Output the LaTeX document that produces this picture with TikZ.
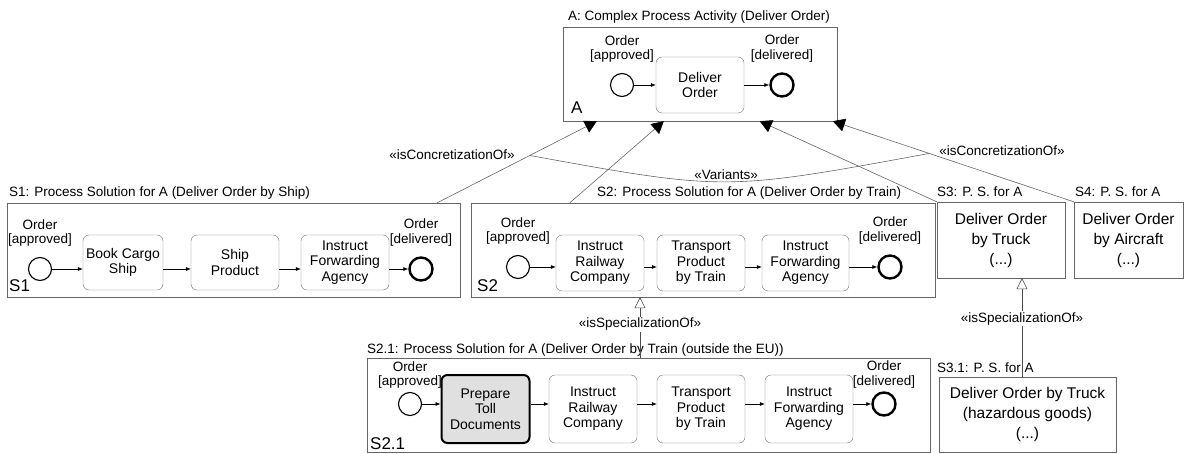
\documentclass[tikz,border=0pt]{standalone}
\usepackage{fontspec}
\setmainfont{Liberation Sans}
\usetikzlibrary{arrows.meta,positioning}

\tikzset{
  ContainerStyle/.style = { rectangle, draw=black!60, inner sep=0pt },
  ActivityStyle/.style  = { rectangle, rounded corners=6pt, draw=black!55,
                            fill=white, align=center, inner sep=0pt,
                            font=\fontsize{14}{15.5}\selectfont },
  TollStyle/.style      = { ActivityStyle, draw=black, line width=2pt,
                            fill=black!12 },
  StartStyle/.style     = { circle, draw, line width=1.1pt, minimum size=23pt,
                            inner sep=0pt },
  EndStyle/.style       = { StartStyle, line width=2.4pt },
  StateStyle/.style     = { align=center, inner sep=0pt,
                            font=\fontsize{13.5}{14.5}\selectfont },
  TitleStyle/.style     = { anchor=base west, inner sep=0pt,
                            font=\fontsize{13.5}{15}\selectfont },
  TagStyle/.style       = { anchor=base west, inner sep=0pt,
                            font=\fontsize{17}{18}\selectfont },
  SketchStyle/.style    = { align=center, font=\fontsize{15.5}{20}\selectfont },
  StereoStyle/.style    = { inner sep=1pt, font=\fontsize{13.5}{15}\selectfont },
  FlowStyle/.style      = { -{Latex[length=5pt,width=4pt]}, line width=0.6pt },
  ConcreteStyle/.style  = { -{Triangle[length=12pt,width=13pt,color=black]},
                            draw=black!60, line width=0.6pt },
  SpecialStyle/.style   = { -{Triangle[open,length=11pt,width=11pt]},
                            draw=black!70, line width=0.6pt }
}

\begin{document}
\begin{tikzpicture}[x=1pt,y=-1pt]
  \useasboundingbox (0,0) rectangle (1186,454);

  % complex process activity A
  \node[ContainerStyle, minimum width=274pt, minimum height=94pt] (a) at (700,74) {};
  \node[TitleStyle] (ta) at (568,21) {A: Complex Process Activity (Deliver Order)};
  \node[TagStyle] at (571,114) {A};
  \node[StartStyle] (a0) at (622,85) {};
  \node[ActivityStyle, minimum width=88pt, minimum height=56pt] (a1) at (700,85) {Deliver\\Order};
  \node[EndStyle] (a9) at (782,85) {};
  \node[StateStyle, above=10pt of a0] {Order\\{[}approved{]}};
  \node[StateStyle, above=10pt of a9] {Order\\{[}delivered{]}};
  \draw[FlowStyle] (a0) -- (a1);
  \draw[FlowStyle] (a1) -- (a9);

  % S1: by ship
  \node[ContainerStyle, minimum width=453pt, minimum height=94pt] (s1) at (233.5,250) {};
  \node[TitleStyle] (t1) at (9,197) {S1: Process Solution for A (Deliver Order by Ship)};
  \node[TagStyle] at (9,292) {S1};
  \node[StartStyle] (s1s) at (40,269) {};
  \node[ActivityStyle, minimum width=80pt, minimum height=55pt] (s1a) at (123,262.5) {Book Cargo\\Ship};
  \node[ActivityStyle, minimum width=88pt, minimum height=55pt] (s1b) at (235,262.5) {Ship\\Product};
  \node[ActivityStyle, minimum width=88pt, minimum height=55pt] (s1c) at (345,262.5) {Instruct\\Forwarding\\Agency};
  \node[EndStyle] (s1e) at (421,269) {};
  \node[StateStyle, above=10pt of s1s] {Order\\{[}approved{]}};
  \node[StateStyle, above=10pt of s1e] {Order\\{[}delivered{]}};
  \draw[FlowStyle] (s1s) -- (s1s -| s1a.west);
  \draw[FlowStyle] (s1a.east |- s1s) -- (s1b.west |- s1s);
  \draw[FlowStyle] (s1b.east |- s1s) -- (s1c.west |- s1s);
  \draw[FlowStyle] (s1c.east |- s1s) -- (s1e);

  % S2: by train
  \node[ContainerStyle, minimum width=464pt, minimum height=94pt] (s2) at (703,250) {};
  \node[TitleStyle] (t2) at (597,197) {S2: Process Solution for A (Deliver Order by Train)};
  \node[TagStyle] at (477,292) {S2};
  \node[StartStyle] (s2s) at (518,267) {};
  \node[ActivityStyle, minimum width=88pt, minimum height=56pt] (s2a) at (600,263) {Instruct\\Railway\\Company};
  \node[ActivityStyle, minimum width=88pt, minimum height=56pt] (s2b) at (701,263) {Transport\\Product\\by Train};
  \node[ActivityStyle, minimum width=87pt, minimum height=56pt] (s2c) at (805.5,263) {Instruct\\Forwarding\\Agency};
  \node[EndStyle] (s2e) at (890,267) {};
  \node[StateStyle, above=10pt of s2s] {Order\\{[}approved{]}};
  \node[StateStyle, above=10pt of s2e] {Order\\{[}delivered{]}};
  \draw[FlowStyle] (s2s) -- (s2s -| s2a.west);
  \draw[FlowStyle] (s2a.east |- s2s) -- (s2b.west |- s2s);
  \draw[FlowStyle] (s2b.east |- s2s) -- (s2c.west |- s2s);
  \draw[FlowStyle] (s2c.east |- s2s) -- (s2e);

  % S3, S4: sketched solutions
  \node[ContainerStyle, SketchStyle, minimum width=128pt, minimum height=76pt] (s3) at (1001,240) {Deliver Order\\by Truck\\(...)};
  \node[TitleStyle] (t3) at (937,197) {S3: P. S. for A};
  \node[ContainerStyle, SketchStyle, minimum width=109pt, minimum height=76pt] (s4) at (1128.5,240) {Deliver Order\\by Aircraft\\(...)};
  \node[TitleStyle] (t4) at (1075,197) {S4: P. S. for A};

  % S2.1: by train outside the EU
  \node[ContainerStyle, minimum width=563pt, minimum height=94pt] (s21) at (648.5,405) {};
  \node[TitleStyle] (t21) at (367,353) {S2.1: Process Solution for A (Deliver Order by Train (outside the EU))};
  \node[TagStyle] at (370,449) {S2.1};
  \node[StartStyle] (s21s) at (410,404) {};
  \node[TollStyle, minimum width=88pt, minimum height=68pt] (s21a) at (485.5,409) {Prepare\\Toll\\Documents};
  \node[ActivityStyle, minimum width=88pt, minimum height=68pt] (s21b) at (593,409) {Instruct\\Railway\\Company};
  \node[ActivityStyle, minimum width=88pt, minimum height=68pt] (s21c) at (701,409) {Transport\\Product\\by Train};
  \node[ActivityStyle, minimum width=88pt, minimum height=68pt] (s21d) at (809,409) {Instruct\\Forwarding\\Agency};
  \node[EndStyle] (s21e) at (884,404) {};
  \node[StateStyle, above=3pt of s21s] {Order\\{[}approved{]}};
  \node[StateStyle, above=3pt of s21e] {Order\\{[}delivered{]}};
  \draw[FlowStyle] (s21s) -- (s21s -| s21a.west);
  \draw[FlowStyle] (s21a.east |- s21s) -- (s21b.west |- s21s);
  \draw[FlowStyle] (s21b.east |- s21s) -- (s21c.west |- s21s);
  \draw[FlowStyle] (s21c.east |- s21s) -- (s21d.west |- s21s);
  \draw[FlowStyle] (s21d.east |- s21s) -- (s21e);

  % S3.1: truck with hazardous goods
  \node[ContainerStyle, SketchStyle, minimum width=177pt, minimum height=75pt] (s31) at (1027.5,414.5) {Deliver Order by Truck\\(hazardous goods)\\(...)};
  \node[TitleStyle] (t31) at (937,372) {S3.1: P. S. for A};

  % concretization and variants
  \draw[ConcreteStyle] ([xshift=-23pt]s1.north east) -- coordinate[pos=0.58] (varL) ([xshift=34pt]a.south west);
  \draw[ConcreteStyle] ([xshift=99pt]s2.north west) -- ([xshift=101pt]a.south west);
  \draw[ConcreteStyle] (s3.north west) -- ([xshift=197pt]a.south west);
  \draw[ConcreteStyle] (s4.north west) -- coordinate[pos=0.6] (varR) ([xshift=270pt]a.south west);
  \draw[draw=black!60, line width=0.6pt] (varL) .. controls (725,191) .. (varR)
    node[midway, above=1pt, StereoStyle] {«Variants»};
  \node[StereoStyle] (cl) at (452,155) {«isConcretizationOf»};
  \node[StereoStyle] (cr) at (1002,151) {«isConcretizationOf»};

  % specialization
  \draw[SpecialStyle] ([xshift=-63pt]s2.south |- s21.north) -- node[pos=0.55, StereoStyle, fill=white] {«isSpecializationOf»} ([xshift=-63pt]s2.south);
  \draw[SpecialStyle] ([xshift=21pt]s3.south |- s31.north) -- node[pos=0.59, StereoStyle, fill=white] {«isSpecializationOf»} ([xshift=21pt]s3.south);
\end{tikzpicture}
\end{document}
